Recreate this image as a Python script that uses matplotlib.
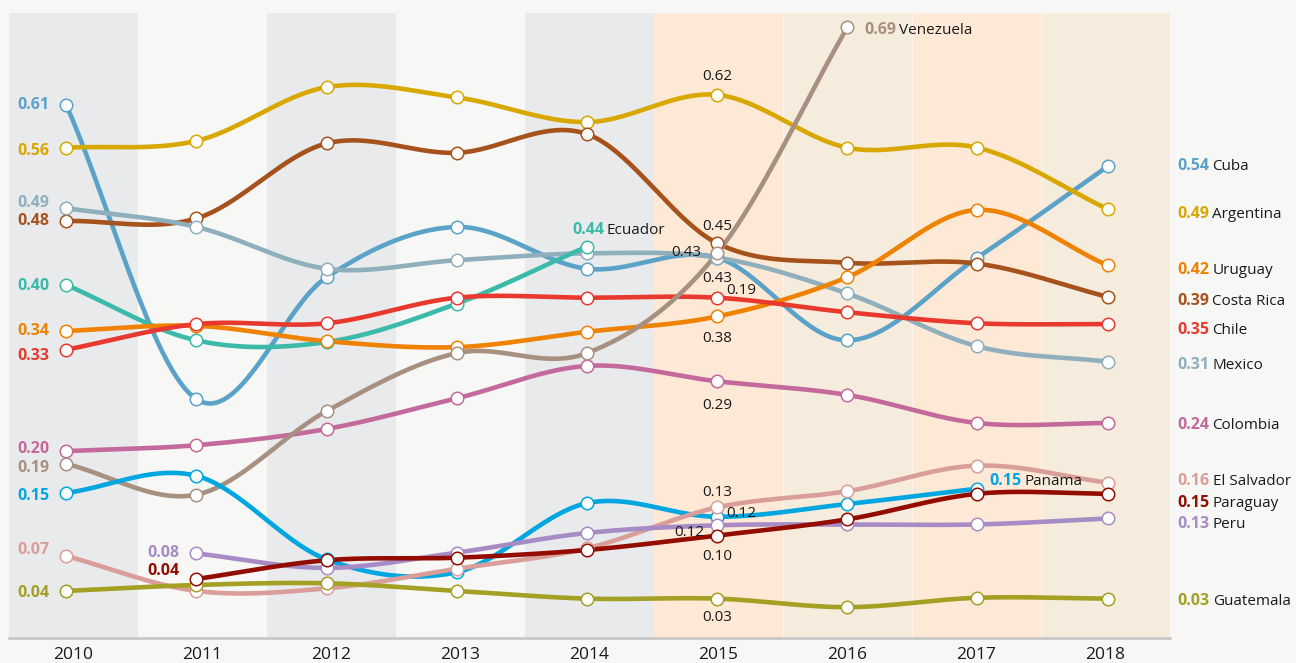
import numpy as np
import matplotlib
matplotlib.use("Agg")
import matplotlib.pyplot as plt

plt.rcParams['font.family'] = ['Open Sans', 'DejaVu Sans']

nan = np.nan
years = [2010, 2011, 2012, 2013, 2014, 2015, 2016, 2017, 2018]

cuba = [0.610, 0.265, 0.408, 0.467, 0.418, 0.431, 0.334, 0.431, 0.538]
argentina = [0.560, 0.568, 0.631, 0.619, 0.590, 0.622, 0.560, 0.560, 0.488]
costa_rica = [0.474, 0.477, 0.565, 0.554, 0.576, 0.448, 0.425, 0.424, 0.385]
mexico = [0.489, 0.467, 0.418, 0.428, 0.436, 0.431, 0.389, 0.327, 0.309]
ecuador = [0.399, 0.334, 0.332, 0.377, 0.444, nan, nan, nan, nan]
uruguay = [0.345, 0.351, 0.333, 0.326, 0.344, 0.362, 0.408, 0.487, 0.422]
chile = [0.323, 0.353, 0.354, 0.384, 0.384, 0.384, 0.367, 0.354, 0.353]
colombia = [0.204, 0.211, 0.230, 0.266, 0.304, 0.286, 0.270, 0.237, 0.237]
venezuela = [0.189, 0.153, 0.251, 0.319, 0.319, 0.436, 0.701, nan, nan]
panama = [0.155, 0.175, 0.077, 0.062, 0.143, 0.127, 0.142, 0.160, nan]
el_salvador = [0.081, 0.040, 0.043, 0.066, 0.090, 0.138, 0.157, 0.187, 0.167]
guatemala = [0.040, 0.047, 0.049, 0.040, 0.031, 0.031, 0.021, 0.032, 0.031]
peru = [nan, 0.084, 0.067, 0.085, 0.108, 0.117, 0.118, 0.118, 0.125]
paraguay = [nan, 0.054, 0.076, 0.079, 0.088, 0.105, 0.124, 0.154, 0.154]

names = ['Cuba', 'Argentina', 'Costa Rica', 'Mexico', 'Ecuador', 'Uruguay', 'Chile',
         'Colombia', 'Venezuela', 'Panama', 'El Salvador', 'Guatemala', 'Peru', 'Paraguay']
series = [cuba, argentina, costa_rica, mexico, ecuador, uruguay, chile,
          colombia, venezuela, panama, el_salvador, guatemala, peru, paraguay]
colors = ['#5aa2c8', '#d9a800', '#a6521c', '#90afbd', '#3bb9a9', '#ef8200', '#e8392f',
          '#c4699b', '#a79080', '#00a6e0', '#d99e9a', '#a3a024', '#a68bc5', '#920d00']

# labels shown at the first point of a series
start_text = {'Cuba': '0.61', 'Argentina': '0.56', 'Mexico': '0.49', 'Costa Rica': '0.48',
              'Ecuador': '0.40', 'Uruguay': '0.34', 'Chile': '0.33', 'Colombia': '0.20',
              'Venezuela': '0.19', 'Panama': '0.15', 'El Salvador': '0.07', 'Guatemala': '0.04',
              'Peru': '0.08', 'Paraguay': '0.04'}
# labels shown at the last point of a series
end_text = {'Cuba': '0.54', 'Argentina': '0.49', 'Uruguay': '0.42', 'Costa Rica': '0.39',
            'Chile': '0.35', 'Mexico': '0.31', 'Colombia': '0.24', 'El Salvador': '0.16',
            'Paraguay': '0.15', 'Peru': '0.13', 'Guatemala': '0.03', 'Ecuador': '0.44',
            'Venezuela': '0.69', 'Panama': '0.15'}
# 2015 labels (series, text)
mid_text = [('Argentina', '0.62'), ('Costa Rica', '0.45'), ('Venezuela', '0.43'),
            ('Mexico', '0.43'), ('Chile', '0.19'), ('Uruguay', '0.38'), ('Colombia', '0.29'),
            ('El Salvador', '0.13'), ('Panama', '0.12'), ('Peru', '0.12'),
            ('Paraguay', '0.10'), ('Guatemala', '0.03')]

# label offsets in pixels
start_dy = {'Cuba': 2, 'Argentina': -1, 'Mexico': 7, 'Costa Rica': 2, 'Ecuador': 1,
            'Uruguay': 2, 'Chile': -4, 'Colombia': 4, 'Venezuela': -2, 'Panama': -1,
            'El Salvador': 8, 'Guatemala': 0, 'Peru': 2, 'Paraguay': 10}
end_off = {'Cuba': (70, 2), 'Argentina': (70, -3), 'Uruguay': (70, -3), 'Costa Rica': (70, -2),
           'Chile': (70, -4), 'Mexico': (70, -1), 'Colombia': (70, 0), 'El Salvador': (70, 4),
           'Paraguay': (70, -7), 'Peru': (70, -4), 'Guatemala': (70, 0),
           'Ecuador': (-15, 19), 'Venezuela': (17, -1), 'Panama': (12, 10)}
mid_off = [(0, 20), (0, 19), (-31, 3), (0, -19), (24, 9), (0, -20), (0, -22),
           (0, 17), (24, 5), (-28, -5), (0, -19), (0, -17)]
SHIFT = -2  # text centre correction


def catmull(x, y, n=40):
    x = np.asarray(x, float)
    y = np.asarray(y, float)
    ok = ~np.isnan(y)
    x, y = x[ok], y[ok]
    px = np.concatenate([[2 * x[0] - x[1]], x, [2 * x[-1] - x[-2]]])
    py = np.concatenate([[2 * y[0] - y[1]], y, [2 * y[-1] - y[-2]]])
    t = np.linspace(0, 1, n)
    h00 = 2 * t**3 - 3 * t**2 + 1
    h10 = t**3 - 2 * t**2 + t
    h01 = -2 * t**3 + 3 * t**2
    h11 = t**3 - t**2
    xs, ys = [], []
    for i in range(1, len(px) - 2):
        m0 = (py[i + 1] - py[i - 1]) / 2
        m1 = (py[i + 2] - py[i]) / 2
        xs.append(px[i] + (px[i + 1] - px[i]) * t)
        ys.append(h00 * py[i] + h10 * m0 + h01 * py[i + 1] + h11 * m1)
    return np.concatenate(xs), np.concatenate(ys)


fig = plt.figure(figsize=(12.96, 6.63), dpi=100)
fig.patch.set_facecolor('#f7f7f5')
ax = fig.add_axes([9 / 1296, 25 / 663, 1161 / 1296, 625 / 663])
ax.set_facecolor('none')
ax.set_xlim(2009.56, 2018.48)
ax.set_ylim(-0.0152, 0.718)
ax.axis('off')

edges = np.linspace(2009.56, 2018.48, 10)
band_cols = ['#e9eaec', '#f7f7f5', '#e9eaec', '#f7f7f5', '#e9eaec',
             '#fde9d6', '#f5ecde', '#fde9d6', '#f5ecde']
for i, c in enumerate(band_cols):
    ax.axvspan(edges[i], edges[i + 1], color=c, lw=0, zorder=0)
for e in edges[6:9]:
    ax.axvline(e, color='white', lw=0.8, alpha=0.6, zorder=0.5)
ax.plot([edges[0], edges[-1]], [-0.0152, -0.0152], color='#c8c8c8', lw=2,
        clip_on=False, zorder=1)

for s, c in zip(series, colors):
    sx, sy = catmull(years, s)
    ax.plot(sx, sy, color=c, lw=3.3, solid_capstyle='round', zorder=2)
for s, c in zip(series, colors):
    ax.plot(years, s, 'o', ms=9, mfc='white', mec=c, mew=1.1, zorder=3, ls='none')

FS_NUM = 11.5
FS_NAME = 11
for name, s, c in zip(names, series, colors):
    arr = np.asarray(s, float)
    idx = np.where(~np.isnan(arr))[0]
    i0, i1 = idx[0], idx[-1]
    ax.annotate(start_text[name], xy=(years[i0], arr[i0]), xytext=(-17, start_dy[name] + SHIFT),
                textcoords='offset pixels', ha='right', va='center', color=c,
                fontweight='bold', fontsize=FS_NUM)
    dx, dy = end_off[name]
    t = ax.annotate(end_text[name], xy=(years[i1], arr[i1]), xytext=(dx, dy + SHIFT),
                    textcoords='offset pixels', ha='left', va='center', color=c,
                    fontweight='bold', fontsize=FS_NUM)
    ax.annotate(name, xy=(1, 0), xycoords=t, xytext=(3, 0), textcoords='offset pixels',
                ha='left', va='bottom', color='#1a1a1a', fontsize=FS_NAME)

i15 = years.index(2015)
for (name, txt), (dx, dy) in zip(mid_text, mid_off):
    s = series[names.index(name)]
    ax.annotate(txt, xy=(2015, s[i15]), xytext=(dx, dy + SHIFT), textcoords='offset pixels',
                ha='center', va='center', color='#1a1a1a', fontsize=FS_NAME)

centers = (edges[:-1] + edges[1:]) / 2
for yr, cx in zip(years, centers):
    ax.annotate(str(yr), xy=(cx, 0), xycoords=('data', 'axes fraction'), xytext=(0, -17),
                textcoords='offset pixels', ha='center', va='center', color='#1a1a1a',
                fontsize=12.5, annotation_clip=False)

fig.savefig('out.png', dpi=100, facecolor=fig.get_facecolor())
